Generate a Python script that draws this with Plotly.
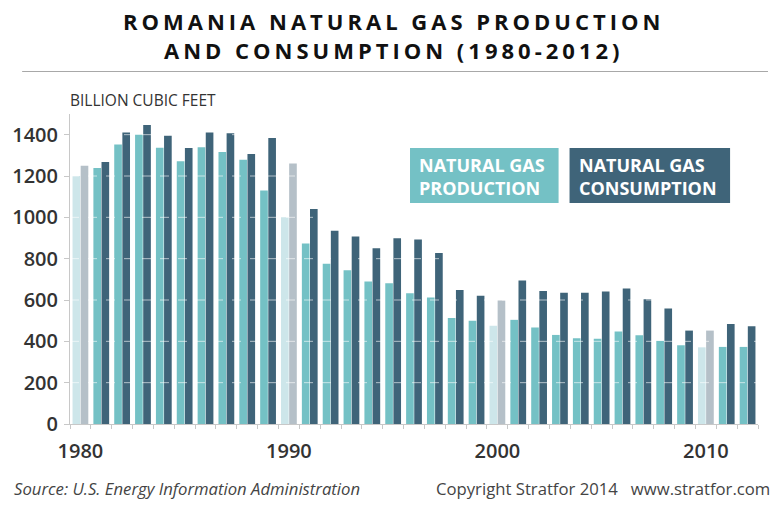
import plotly.graph_objects as go

years = list(range(1980, 2013))
production = [1200, 1239, 1352, 1400, 1337, 1271, 1339, 1316, 1279, 1130,
              1001, 873, 775, 744, 689, 681, 633, 612, 513, 499,
              476, 504, 467, 431, 415, 412, 447, 430, 402, 381,
              371, 373, 373]
consumption = [1250, 1268, 1411, 1447, 1395, 1336, 1410, 1407, 1307, 1384,
               1261, 1040, 935, 907, 851, 899, 893, 827, 648, 620,
               597, 694, 644, 635, 635, 641, 656, 604, 559, 452,
               452, 484, 473]
x_labels = [1980, 1990, 2000, 2010]
y_ticks = [0, 200, 400, 600, 800, 1000, 1200, 1400]

PROD = "#74c1c5"
CONS = "#3f6479"
PROD_HI = "#cde6ea"
CONS_HI = "#b5c0c8"

prod_colors = [PROD_HI if y % 10 == 0 else PROD for y in years]
cons_colors = [CONS_HI if y % 10 == 0 else CONS for y in years]

W, H = 784, 507
ML, MR, MT, MB = 68, 26, 114, 83
PW, PH = W - ML - MR, H - MT - MB


def px(xp):
    return (xp - ML) / PW


def py(yp):
    return (H - MB - yp) / PH


fig = go.Figure()
fig.add_trace(go.Bar(x=years, y=production, name="Natural Gas Production",
                     marker=dict(color=prod_colors, line=dict(width=0))))
fig.add_trace(go.Bar(x=years, y=consumption, name="Natural Gas Consumption",
                     marker=dict(color=cons_colors, line=dict(width=0))))

tick_font = dict(family="Open Sans", size=20, color="#333333", weight=600)

fig.update_layout(
    width=W, height=H,
    margin=dict(l=ML, r=MR, t=MT, b=MB),
    paper_bgcolor="white", plot_bgcolor="white",
    showlegend=False,
    barmode="group", bargap=0.22, bargroupgap=0.06,
    xaxis=dict(range=[1979.5, 2012.5], tickmode="array", tickvals=x_labels,
               ticks="", showline=True, linecolor="#c8c8c8", linewidth=1,
               showgrid=False, zeroline=False, tickfont=tick_font,
               ticklabelstandoff=9,
               minor=dict(ticks="outside", ticklen=4, tickcolor="#c8c8c8",
                          tickmode="linear", tick0=1979.5, dtick=1, showgrid=False)),
    yaxis=dict(range=[0, 1500], tickmode="array", tickvals=y_ticks,
               ticks="outside", ticklen=5, tickcolor="#c8c8c8",
               showline=True, linecolor="#c8c8c8", linewidth=1,
               showgrid=False, zeroline=False, tickfont=tick_font,
               ticklabelstandoff=2),
)

shapes = []
for v in y_ticks[1:]:
    shapes.append(dict(type="line", xref="paper", yref="y", x0=0, x1=1, y0=v, y1=v,
                       line=dict(color="rgba(255,255,255,0.6)", width=1, dash="dash"),
                       layer="above"))
# title rule
shapes.append(dict(type="line", xref="paper", yref="paper", x0=px(20), x1=px(768),
                   y0=py(71.5), y1=py(71.5), line=dict(color="#a8a8a8", width=1)))
# legend boxes
shapes.append(dict(type="rect", xref="paper", yref="paper", x0=px(409), x1=px(558),
                   y0=py(203), y1=py(148), fillcolor=PROD, line=dict(width=0), layer="above"))
shapes.append(dict(type="rect", xref="paper", yref="paper", x0=px(569), x1=px(730),
                   y0=py(203), y1=py(148), fillcolor=CONS, line=dict(width=0), layer="above"))
fig.update_layout(shapes=shapes)

legend_font = dict(family="Open Sans", size=18, color="white", weight=700)
footer_font = dict(family="Open Sans", size=16.7, color="#444444")
annotations = [
    dict(text="ROMANIA NATURAL GAS PRODUCTION<br>AND CONSUMPTION (1980-2012)",
         xref="paper", yref="paper", x=px(392), y=py(36), xanchor="center",
         yanchor="middle", align="center", showarrow=False,
         font=dict(family="Open Sans", size=22, color="#111111", weight=700)),
    dict(text="NATURAL GAS<br>PRODUCTION", xref="paper", yref="paper",
         x=px(416), y=py(176), xanchor="left", yanchor="middle", align="left",
         showarrow=False, font=legend_font),
    dict(text="NATURAL GAS<br>CONSUMPTION", xref="paper", yref="paper",
         x=px(576), y=py(176), xanchor="left", yanchor="middle", align="left",
         showarrow=False, font=legend_font),
    dict(text="BILLION CUBIC FEET", xref="paper", yref="paper",
         x=px(66), y=py(100), xanchor="left", yanchor="middle",
         showarrow=False, font=dict(family="Open Sans", size=15.5, color="#333333")),
    dict(text="<i>Source: U.S. Energy Information Administration</i>", xref="paper", yref="paper",
         x=px(10), y=py(488), xanchor="left", yanchor="middle",
         showarrow=False, font=footer_font),
    dict(text="Copyright Stratfor 2014   www.stratfor.com", xref="paper", yref="paper",
         x=px(772), y=py(488), xanchor="right", yanchor="middle",
         showarrow=False, font=footer_font),
]
fig.update_layout(annotations=annotations)

post = """
var gd = document.getElementById('{plot_id}');
var ann = gd.querySelectorAll('.annotation-text');
if (ann.length) { ann[0].style.letterSpacing = '4.0px'; }
"""
fig.write_html("out.html", post_script=post)
